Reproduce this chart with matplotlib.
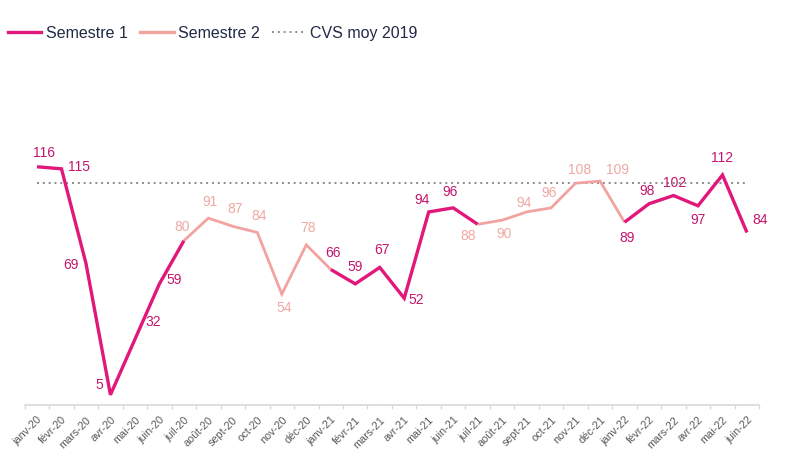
import matplotlib
matplotlib.use("Agg")
import matplotlib.pyplot as plt
from matplotlib.lines import Line2D

months = ["janv-20", "févr-20", "mars-20", "avr-20", "mai-20", "juin-20",
          "juil-20", "août-20", "sept-20", "oct-20", "nov-20", "déc-20",
          "janv-21", "févr-21", "mars-21", "avr-21", "mai-21", "juin-21",
          "juil-21", "août-21", "sept-21", "oct-21", "nov-21", "déc-21",
          "janv-22", "févr-22", "mars-22", "avr-22", "mai-22", "juin-22"]
values = [116, 115, 69, 5, 32, 59,
          80, 91, 87, 84, 54, 78,
          66, 59, 67, 52, 94, 96,
          88, 90, 94, 96, 108, 109,
          89, 98, 102, 97, 112, 84]
cvs_2019 = 108

# label offsets in pixels (dx, dy)
label_offsets = [(7, 14), (18, 2), (-15, -2), (-11, 10), (18, 17), (15, 4),
                 (-2, 14), (2, 16), (2, 17), (2, 17), (2, -14), (2, 17),
                 (2, 16), (0, 17), (2, 17), (12, -2), (-7, 12), (-3, 16),
                 (-10, -12), (2, -14), (-3, 9), (-2, 15), (4, 13), (17, 11),
                 (3, -16), (-2, 13), (1, 13), (0, -14), (0, 17), (13, 13)]

DARK = "#E2177B"
DARK_TXT = "#C4156E"
LIGHT = "#F2A3A0"
LIGHT_TXT = "#F0A8A3"
plt.rcParams['font.family'] = ['Liberation Sans', 'DejaVu Sans']

fig = plt.figure(figsize=(7.91, 4.71), dpi=100)
ax = fig.add_axes([0.0313, 0.140, 0.9285, 0.567])

n = len(months)
x = list(range(n))

def sem(i):
    return 1 if (i % 12) < 6 else 2

# semester segments
for start in range(0, n, 6):
    end = min(start + 6, n - 1)
    xs = x[start:end + 1]
    ys = values[start:end + 1]
    s = sem(start)
    ax.plot(xs, ys, color=DARK if s == 1 else LIGHT, lw=2.4 if s == 1 else 2.0,
            solid_joinstyle='miter', solid_capstyle='butt', zorder=3 if s == 1 else 2)

ax.plot([0, n - 1], [cvs_2019, cvs_2019], color="#8C8C8C", lw=1.4,
        linestyle=(0, (1, 2)), zorder=1)

for i, v in enumerate(values):
    dx, dy = label_offsets[i]
    ax.annotate(str(v), (i, v), xytext=(dx, dy), textcoords='offset pixels',
                ha='center', va='center', fontsize=10,
                color=DARK_TXT if sem(i) == 1 else LIGHT_TXT)

ax.set_xlim(-0.5, n - 0.5)
ax.set_ylim(0, 130)
for s in ['top', 'right', 'left']:
    ax.spines[s].set_visible(False)
ax.spines['bottom'].set_color('#D9D9D9')
ax.spines['bottom'].set_linewidth(1.2)
ax.set_yticks([])
ax.set_xticks(x)
ax.set_xticklabels(months, rotation=45, ha='right', rotation_mode='anchor',
                   fontsize=7.8, color='#595959')
ax.set_xticks([i - 0.5 for i in range(n + 1)], minor=True)
ax.tick_params(axis='x', which='major', length=0, pad=7)
ax.tick_params(axis='x', which='minor', length=3, color='#D9D9D9', width=1)

handles = [Line2D([], [], color=DARK, lw=2.4),
           Line2D([], [], color=LIGHT, lw=2.4),
           Line2D([], [], color="#8C8C8C", lw=1.4, linestyle=(0, (1, 2)))]
fig.legend(handles, ["Semestre 1", "Semestre 2", "CVS moy 2019"],
           loc='center left', bbox_to_anchor=(0.010, 0.929), ncol=3,
           frameon=False, fontsize=11.5, handlelength=2.1, handletextpad=0.3,
           columnspacing=0.75, borderpad=0, borderaxespad=0,
           labelcolor='#1F2A44')

fig.savefig("out.png", dpi=100, facecolor='white')
